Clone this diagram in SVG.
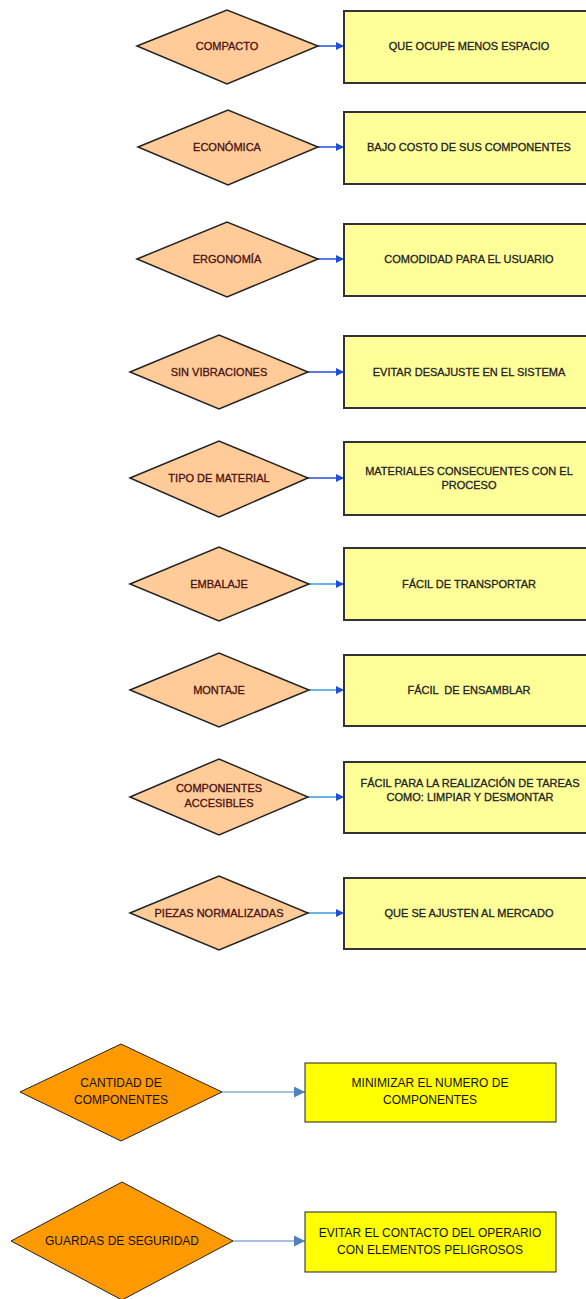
<svg xmlns="http://www.w3.org/2000/svg" width="586" height="1299" viewBox="0 0 586 1299">
<defs>
<style>
.d{fill:#FFCC99;stroke:#222;stroke-width:1.5}
.r{fill:#FFFF99;stroke:#333;stroke-width:2}
.d2{fill:#FF9900;stroke:#222;stroke-width:1}
.r2{fill:#FFFF00;stroke:#222;stroke-width:1}
.t{font-family:"Liberation Sans",Arial,sans-serif;font-size:11px;text-anchor:middle;fill:#4a1010;stroke:#4a1010;stroke-width:0.3}
.tr{font-family:"Liberation Sans",Arial,sans-serif;font-size:11px;text-anchor:middle;fill:#222;stroke:#222;stroke-width:0.3}
.tb{font-family:"Liberation Sans",Arial,sans-serif;font-size:12px;text-anchor:middle;fill:#111}
.c{stroke:#1F4FD8;stroke-width:1.5;fill:none}
.c3{stroke:#3A9BE0;stroke-width:1.5;fill:none}
.c2{stroke:#4F81BD;stroke-width:1;fill:none}
</style>
<marker id="a" viewBox="0 0 10 10" refX="10" refY="5" markerWidth="8" markerHeight="8" markerUnits="userSpaceOnUse" orient="auto"><path d="M0,0L10,5L0,10z" fill="#1F4FD8"/></marker>
<marker id="a2" viewBox="0 0 10 10" refX="10" refY="5" markerWidth="11" markerHeight="11" markerUnits="userSpaceOnUse" orient="auto"><path d="M0,0L10,5L0,10z" fill="#4F81BD"/></marker>
</defs>
<g id="connectors">
<line class="c" x1="318" y1="46" x2="344" y2="46" marker-end="url(#a)"/>
<line class="c" x1="318" y1="147" x2="344" y2="147" marker-end="url(#a)"/>
<line class="c" x1="318" y1="259" x2="344" y2="259" marker-end="url(#a)"/>
<line class="c" x1="308" y1="372" x2="344" y2="372" marker-end="url(#a)"/>
<line class="c" x1="308" y1="478" x2="344" y2="478" marker-end="url(#a)"/>
<line class="c3" x1="309" y1="584" x2="344" y2="584" marker-end="url(#a)"/>
<line class="c3" x1="309" y1="690" x2="344" y2="690" marker-end="url(#a)"/>
<line class="c3" x1="308" y1="797" x2="344" y2="797" marker-end="url(#a)"/>
<line class="c3" x1="308" y1="913" x2="344" y2="913" marker-end="url(#a)"/>
<line class="c2" x1="222" y1="1092" x2="305" y2="1092" marker-end="url(#a2)"/>
<line class="c2" x1="233" y1="1241" x2="305" y2="1241" marker-end="url(#a2)"/>
</g>
<g id="n1"><polygon class="d" points="137,46 227,10 318,46 227,84"/><text class="t" x="227" y="50">COMPACTO</text></g>
<g id="r1"><rect class="r" x="344" y="11" width="250" height="72"/><text class="tr" x="469" y="50">QUE OCUPE MENOS ESPACIO</text></g>
<g id="n2"><polygon class="d" points="138,147 228,110 318,147 228,185"/><text class="t" x="227" y="151">ECONÓMICA</text></g>
<g id="r2"><rect class="r" x="344" y="112" width="250" height="72"/><text class="tr" x="469" y="151">BAJO COSTO DE SUS COMPONENTES</text></g>
<g id="n3"><polygon class="d" points="137,259 227,222 318,259 227,297"/><text class="t" x="227" y="263">ERGONOMÍA</text></g>
<g id="r3"><rect class="r" x="344" y="224" width="250" height="72"/><text class="tr" x="469" y="263">COMODIDAD PARA EL USUARIO</text></g>
<g id="n4"><polygon class="d" points="130,372 219,335 308,372 219,409"/><text class="t" x="219" y="376">SIN VIBRACIONES</text></g>
<g id="r4"><rect class="r" x="344" y="336" width="250" height="72"/><text class="tr" x="469" y="376">EVITAR DESAJUSTE EN EL SISTEMA</text></g>
<g id="n5"><polygon class="d" points="130,478 219,441 308,478 219,517"/><text class="t" x="219" y="482">TIPO DE MATERIAL</text></g>
<g id="r5"><rect class="r" x="344" y="442" width="250" height="73"/><text class="tr" x="469" y="475">MATERIALES CONSECUENTES CON EL</text><text class="tr" x="469" y="489">PROCESO</text></g>
<g id="n6"><polygon class="d" points="130,584 219,547 309,584 219,621"/><text class="t" x="219" y="588">EMBALAJE</text></g>
<g id="r6"><rect class="r" x="344" y="548" width="250" height="72"/><text class="tr" x="469" y="588">FÁCIL DE TRANSPORTAR</text></g>
<g id="n7"><polygon class="d" points="130,690 219,653 309,690 219,727"/><text class="t" x="219" y="694">MONTAJE</text></g>
<g id="r7"><rect class="r" x="344" y="655" width="250" height="71"/><text class="tr" x="469" y="694" xml:space="preserve">FÁCIL  DE ENSAMBLAR</text></g>
<g id="n8"><polygon class="d" points="130,797 219,759 308,797 219,835"/><text class="t" x="219" y="792">COMPONENTES</text><text class="t" x="219" y="807">ACCESIBLES</text></g>
<g id="r8"><rect class="r" x="344" y="762" width="250" height="71"/><text class="tr" x="470" y="787">FÁCIL PARA LA REALIZACIÓN DE TAREAS</text><text class="tr" x="470" y="801">COMO: LIMPIAR Y DESMONTAR</text></g>
<g id="n9"><polygon class="d" points="130,913 219,876 308,913 219,950"/><text class="t" x="219" y="917">PIEZAS NORMALIZADAS</text></g>
<g id="r9"><rect class="r" x="344" y="878" width="250" height="71"/><text class="tr" x="469" y="917">QUE SE AJUSTEN AL MERCADO</text></g>
<g id="n10"><polygon class="d2" points="20,1092 121,1044 222,1092 121,1141"/><text class="tb" x="121" y="1087">CANTIDAD DE</text><text class="tb" x="121" y="1104">COMPONENTES</text></g>
<g id="r10"><rect class="r2" x="305" y="1063" width="251" height="59"/><text class="tb" x="430" y="1087">MINIMIZAR EL NUMERO DE</text><text class="tb" x="430" y="1104">COMPONENTES</text></g>
<g id="n11"><polygon class="d2" points="11,1241 122,1182 233,1241 122,1300"/><text class="tb" x="122" y="1245">GUARDAS DE SEGURIDAD</text></g>
<g id="r11"><rect class="r2" x="305" y="1212" width="251" height="60"/><text class="tb" x="430" y="1237">EVITAR EL CONTACTO DEL OPERARIO</text><text class="tb" x="430" y="1254">CON ELEMENTOS PELIGROSOS</text></g>
</svg>
